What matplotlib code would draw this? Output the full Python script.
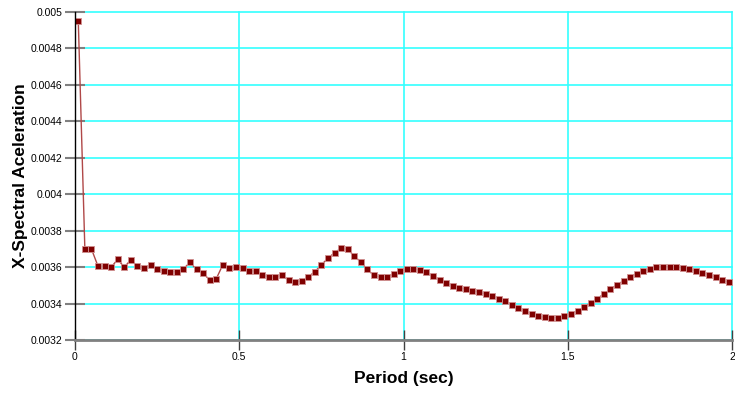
import numpy as np
import matplotlib
matplotlib.use('Agg')
import matplotlib.pyplot as plt

# Periods (sec), sampled every 0.02 s starting at 0.01
period = np.round(np.arange(0.01, 2.0, 0.02), 2)

# X-spectral acceleration
accel = [
    0.004951,
    0.003700, 0.003700, 0.003605, 0.003605, 0.003600, 0.003642, 0.003600, 0.003640,
    0.003605, 0.003595, 0.003610, 0.003590, 0.003580, 0.003575, 0.003575, 0.003590,
    0.003626, 0.003587, 0.003565, 0.003530, 0.003536, 0.003613, 0.003593, 0.003598,
    0.003595, 0.003580, 0.003578, 0.003556, 0.003547, 0.003547, 0.003556, 0.003527,
    0.003521,
    0.003523, 0.003547, 0.003574, 0.003613, 0.003648, 0.003679, 0.003703, 0.003697,
    0.003662, 0.003627, 0.003587, 0.003554, 0.003543, 0.003547, 0.003561, 0.003580,
    0.003587,
    0.003591, 0.003584, 0.003571, 0.003549, 0.003530, 0.003512, 0.003499, 0.003486,
    0.003479, 0.003471, 0.003462, 0.003453, 0.003444, 0.003427, 0.003412, 0.003393,
    0.003376, 0.003358,
    0.003343, 0.003330, 0.003325, 0.003323, 0.003323, 0.003332, 0.003343, 0.003360,
    0.003382, 0.003404, 0.003427, 0.003453, 0.003479, 0.003503, 0.003525, 0.003545,
    0.003563,
    0.003578, 0.003589, 0.003600, 0.003602, 0.003602, 0.003602, 0.003596, 0.003589,
    0.003580, 0.003569, 0.003558, 0.003547, 0.003530, 0.003516,
]

x_ticks = [0, 0.5, 1, 1.5, 2]
y_ticks = [0.0032, 0.0034, 0.0036, 0.0038, 0.004, 0.0042, 0.0044, 0.0046, 0.0048, 0.005]

narrow = ['Liberation Sans Narrow', 'Liberation Sans', 'DejaVu Sans']
bold = ['Liberation Sans', 'DejaVu Sans']

fig = plt.figure(figsize=(7.35, 3.93), dpi=100)
ax = fig.add_axes([75 / 735, 53 / 393, 657 / 735, 328 / 393])

ax.set_xlim(0, 2)
ax.set_ylim(0.0032, 0.005)

# cyan grid, drawn unclipped so the edge lines show fully
for v in y_ticks:
    ax.axhline(v, color='#33ffff', lw=1.2, zorder=1, clip_on=False)
for v in x_ticks[1:]:
    ax.axvline(v, color='#33ffff', lw=1.2, zorder=1, clip_on=False)

ax.plot(period, accel, color='#b04848', lw=1.0, zorder=3)
ax.plot(period, accel, ls='none', marker='s', ms=4, mfc='#800000',
        mec='#d09090', mew=0.6, zorder=4)

for s in ('top', 'right'):
    ax.spines[s].set_visible(False)
ax.spines['left'].set_color('black')
ax.spines['left'].set_linewidth(1.0)
ax.spines['bottom'].set_color('#808080')
ax.spines['bottom'].set_linewidth(2.0)
ax.spines['left'].set_zorder(5)
ax.spines['bottom'].set_zorder(5)

ax.set_xticks(x_ticks)
ax.set_xticklabels([f'{v:g}' for v in x_ticks], fontfamily=narrow, fontsize=7.5)
ax.set_yticks(y_ticks)
ax.set_yticklabels([f'{v:g}' for v in y_ticks], fontfamily=narrow, fontsize=7.5)
ax.tick_params(axis='x', direction='inout', length=14, width=1, color='#404040', pad=2)
ax.tick_params(axis='y', direction='inout', length=14, width=1.5, color='#808080', pad=2)

ax.set_xlabel('Period (sec)', fontfamily=bold, fontweight='bold', fontsize=12.5, labelpad=6)
ax.set_ylabel('X-Spectral Aceleration', fontfamily=bold, fontweight='bold', fontsize=12.5, labelpad=2)

fig.savefig('out.png', dpi=100)
